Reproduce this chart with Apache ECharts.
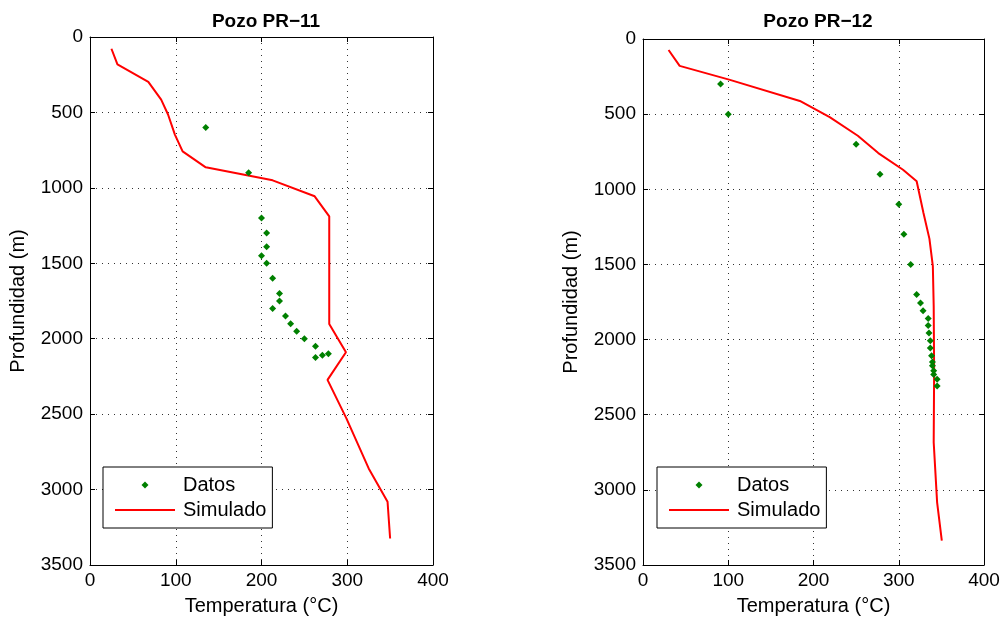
<!DOCTYPE html>
<html>
<head>
<meta charset="utf-8">
<title>Pozo PR-11 / PR-12</title>
<script src="https://cdn.jsdelivr.net/npm/echarts@6/dist/echarts.min.js"></script>
<style>
  html, body { margin: 0; padding: 0; background: #fff; }
  #chart { width: 1006px; height: 621px; }
</style>
</head>
<body>
<div id="chart"></div>
<script>
// Well titles
const wellTitles = ['Pozo PR\u221211', 'Pozo PR\u221212'];

// Axis ticks
const tempTicks = [0, 100, 200, 300, 400];
const depthTicks = [0, 500, 1000, 1500, 2000, 2500, 3000, 3500];

// PR-11: measured temperatures [°C, depth m]
const pr11Datos = [
  [135, 600], [185, 900], [200, 1200], [206, 1300], [206, 1390],
  [200, 1450], [206, 1500], [213, 1600], [221, 1700], [221, 1750],
  [213, 1800], [228, 1850], [234, 1900], [241, 1950], [250, 2000],
  [263, 2050], [278, 2100], [271, 2110], [263, 2125]
];
// PR-11: simulated profile [°C, depth m]
const pr11Simulado = [
  [25, 78], [32, 182], [68, 298], [83, 415], [91, 514], [99, 647],
  [108, 758], [135, 864], [213, 950], [262, 1056], [279, 1189],
  [279, 1902], [298.5, 2090], [277, 2273], [299, 2528], [325, 2860],
  [347, 3081], [350, 3324]
];

// PR-12: measured temperatures [°C, depth m]
const pr12Datos = [
  [91, 300], [100, 500], [250, 700], [278, 900], [300, 1100],
  [306, 1300], [314, 1500], [321, 1700], [325.5, 1757], [328.5, 1808],
  [334.5, 1859], [334.5, 1906], [335.5, 1957], [337, 2008], [337, 2056],
  [338.5, 2107], [339.5, 2149], [339.5, 2174], [341, 2207], [341, 2233],
  [345, 2264], [345, 2309]
];
// PR-12: simulated profile [°C, depth m]
const pr12Simulado = [
  [30, 73], [43, 179], [102, 272], [184, 412], [219, 520], [252, 644],
  [276, 759], [305, 870], [321, 947], [329, 1158], [336, 1330],
  [340, 1512], [341, 1777], [341.5, 2220], [341, 2685], [345, 3083],
  [350.5, 3338]
];

const FONT = "'Liberation Sans', Arial, Helvetica, sans-serif";
const GREEN = '#008000';
const RED = '#ff0000';

const grids = [
  { left: 90, top: 37, width: 343, height: 528 },
  { left: 643, top: 39, width: 341, height: 529 }
];

const lineBlack = { show: true, onZero: false, lineStyle: { color: '#000', width: 1 } };
const dotted = { show: true, lineStyle: { color: '#333', width: 1, type: [1, 5] } };
const plain = (v) => String(v);

function tempAxis(gi, position, main) {
  return {
    type: 'value', gridIndex: gi, position: position,
    min: tempTicks[0], max: tempTicks[tempTicks.length - 1], interval: 100,
    name: main ? 'Temperatura (\u00b0C)' : '',
    nameLocation: 'middle', nameGap: 31,
    nameTextStyle: { color: '#000', fontSize: 20, fontFamily: FONT },
    axisLine: lineBlack,
    axisTick: { show: true, inside: true, length: 5, lineStyle: { color: '#000' } },
    axisLabel: { show: main, color: '#000', fontSize: 19, fontFamily: FONT, margin: 6, formatter: plain },
    splitLine: main ? dotted : { show: false }
  };
}

function depthAxis(gi, position, main) {
  return {
    type: 'value', gridIndex: gi, position: position, inverse: true,
    min: depthTicks[0], max: depthTicks[depthTicks.length - 1], interval: 500,
    name: main ? 'Profundidad (m)' : '',
    nameLocation: 'middle', nameGap: 62, nameRotate: 90,
    nameTextStyle: { color: '#000', fontSize: 20, fontFamily: FONT },
    axisLine: lineBlack,
    axisTick: { show: true, inside: true, length: 5, lineStyle: { color: '#000' } },
    axisLabel: { show: main, color: '#000', fontSize: 19, fontFamily: FONT, margin: 7, formatter: plain },
    splitLine: main ? dotted : { show: false }
  };
}

// legend glyphs drawn inside a 60x18 slot
const datosIcon = 'path://M0,0M60,18M30,5.5L33.5,9L30,12.5L26.5,9Z';
const simIcon = 'path://M0,0M60,18M0,8L60,8L60,10L0,10Z';

function legendFor(left) {
  return {
    left: left, top: 467, orient: 'vertical',
    backgroundColor: '#fff', borderColor: '#000', borderWidth: 1,
    padding: [7, 6, 7, 12], itemGap: 3, itemWidth: 60, itemHeight: 18,
    selectedMode: false,
    textStyle: { color: '#000', fontSize: 20, fontFamily: FONT, lineHeight: 22, padding: [0, 0, 0, 3] },
    data: [
      { name: 'Datos', icon: datosIcon, itemStyle: { color: GREEN, opacity: 1 } },
      { name: 'Simulado', icon: simIcon, itemStyle: { color: RED, opacity: 1 } }
    ]
  };
}

function datosSeries(gi, data) {
  return {
    name: 'Datos', type: 'scatter', xAxisIndex: gi, yAxisIndex: gi,
    data: data, symbol: 'diamond', symbolSize: 7,
    itemStyle: { color: GREEN, opacity: 1 }, z: 3
  };
}

function simSeries(gi, data) {
  return {
    name: 'Simulado', type: 'line', xAxisIndex: gi, yAxisIndex: gi,
    data: data, symbol: 'none', showSymbol: false,
    lineStyle: { color: RED, width: 2 }, itemStyle: { color: RED }, z: 2
  };
}

const chart = echarts.init(document.getElementById('chart'), null, { renderer: 'canvas' });
chart.setOption({
  animation: false,
  backgroundColor: '#fff',
  title: [
    { text: wellTitles[0], left: 261, textAlign: 'center', top: 7,
      textStyle: { color: '#000', fontSize: 19, fontWeight: 'bold', fontFamily: FONT } },
    { text: wellTitles[1], left: 813, textAlign: 'center', top: 7,
      textStyle: { color: '#000', fontSize: 19, fontWeight: 'bold', fontFamily: FONT } }
  ],
  grid: grids,
  xAxis: [
    tempAxis(0, 'bottom', true), tempAxis(1, 'bottom', true),
    tempAxis(0, 'top', false), tempAxis(1, 'top', false)
  ],
  yAxis: [
    depthAxis(0, 'left', true), depthAxis(1, 'left', true),
    depthAxis(0, 'right', false), depthAxis(1, 'right', false)
  ],
  legend: [legendFor(103), legendFor(657)],
  series: [
    simSeries(0, pr11Simulado), datosSeries(0, pr11Datos),
    simSeries(1, pr12Simulado), datosSeries(1, pr12Datos)
  ]
});
</script>
</body>
</html>
